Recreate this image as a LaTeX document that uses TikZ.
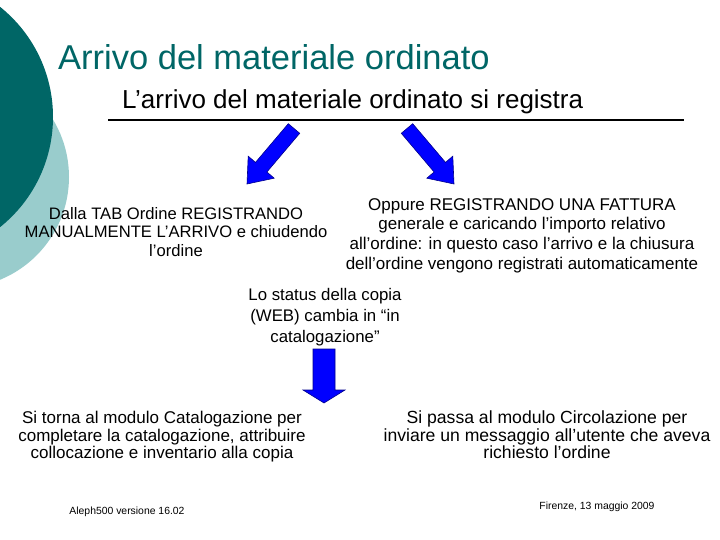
\documentclass[tikz,border=0pt]{standalone}
\usepackage{fontspec}
\setmainfont{Liberation Sans}
\definecolor{darkteal}{RGB}{0,102,102}
\definecolor{lightteal}{RGB}{153,204,204}
\definecolor{arrowblue}{RGB}{0,0,255}
\definecolor{arrowedge}{RGB}{0,0,140}
\begin{document}
\begin{tikzpicture}[x=1pt,y=-1pt,
  txt/.style={align=center,inner sep=0pt,text=black},
  blockarrow/.style={fill=arrowblue,draw=arrowedge,line width=0.6pt,line join=miter}]
\useasboundingbox (0,0) rectangle (720,540);
\begin{scope}
\clip (0,0) rectangle (720,540);
\fill[lightteal] (-42,177) circle[radius=111];
\fill[darkteal] (-88,117) circle[radius=141];
\end{scope}
% title
\node[inner sep=0pt,anchor=west,text=darkteal,font=\fontsize{34.5}{38}\selectfont] (title) at (58,57) {Arrivo del materiale ordinato};
\node[inner sep=0pt,anchor=west,font=\fontsize{26}{28}\selectfont] (sub) at (122,101.5) {L’arrivo del materiale ordinato si registra};
\coordinate (ruleL) at (108,120);
\coordinate (ruleR) at (684,120);
\draw[line width=2pt] (ruleL) -- (ruleR);
% arrows
\draw[blockarrow] (288.3,123.7) -- (299.7,133.3) -- (266.9,172.0) -- (274.2,178.2) -- (247,184) -- (248.2,156.2) -- (255.5,162.4) -- cycle;
\draw[blockarrow] (412.7,123.7) -- (401.3,133.3) -- (434.1,172.0) -- (426.8,178.2) -- (454,184) -- (452.8,156.2) -- (445.5,162.4) -- cycle;
\draw[blockarrow] (313,349) -- (335,349) -- (335,390) -- (345,390) -- (324,403) -- (303,390) -- (313,390) -- cycle;
% texts
\node[txt,font=\fontsize{16.6}{18.2}\selectfont] (left) at (176,232) {Dalla TAB Ordine REGISTRANDO\\MANUALMENTE L’ARRIVO e chiudendo\\l’ordine};
\node[txt,font=\fontsize{17}{19.7}\selectfont] (right) at (522,235.5) {Oppure REGISTRANDO UNA FATTURA\\generale e caricando l’importo relativo\\all’ordine: in questo caso l’arrivo e la chiusura\\dell’ordine vengono registrati automaticamente};
\node[txt,font=\fontsize{16.8}{21}\selectfont] (status) at (325,317) {Lo status della copia\\(WEB) cambia in “in\\catalogazione”};
\node[txt,font=\fontsize{17}{17.5}\selectfont] (catal) at (162,437) {Si torna al modulo Catalogazione per\\completare la catalogazione, attribuire\\collocazione e inventario alla copia};
\node[txt,font=\fontsize{17.6}{17.5}\selectfont] (circ) at (547,435) {Si passa al modulo Circolazione per\\inviare un messaggio all’utente che aveva\\richiesto l’ordine};
\node[txt,font=\fontsize{10.4}{12}\selectfont] (foot1) at (127,512) {Aleph500 versione 16.02};
\node[txt,font=\fontsize{10.4}{12}\selectfont] (foot2) at (597,507) {Firenze, 13 maggio 2009};
\end{tikzpicture}
\end{document}
